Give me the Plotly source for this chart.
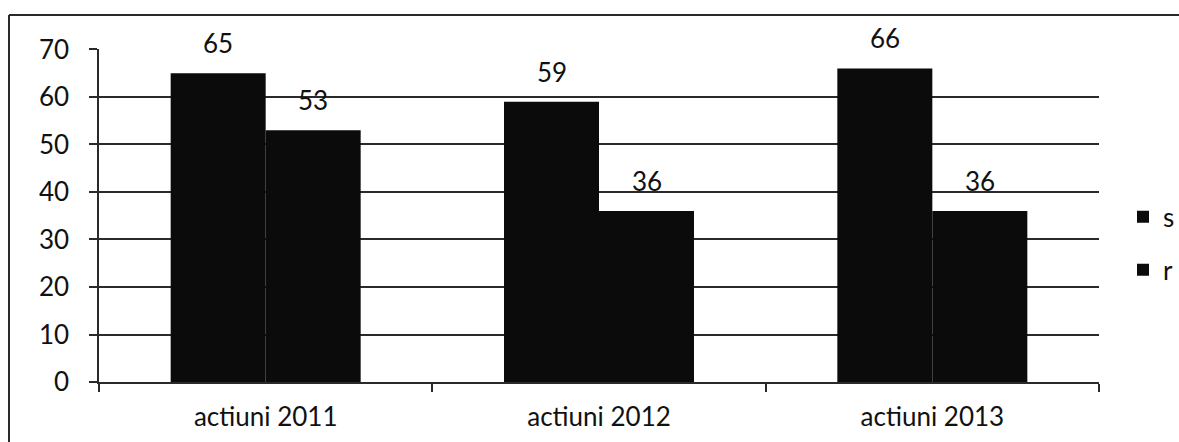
import plotly.graph_objects as go

categories = ["actiuni 2011", "actiuni 2012", "actiuni 2013"]
series_names = ["s", "r"]
s_values = [65, 59, 66]
r_values = [53, 36, 36]
y_ticks = [0, 10, 20, 30, 40, 50, 60, 70]

FONT = "Lato, Carlito, Calibri, sans-serif"
BAR_COLOR = "#0b0b0b"
LINE_COLOR = "#2a2a2a"
BARGAP = 0.43

fig = go.Figure()
for i, (name, vals) in enumerate(zip(series_names, [s_values, r_values])):
    fig.add_trace(go.Bar(
        x=categories, y=vals, name=name,
        marker=dict(color=BAR_COLOR, line=dict(width=0)),
        legendgroup=name,
    ))

# data labels above bars
bar_w = (1 - BARGAP) / 2
annotations = []
for ci in range(len(categories)):
    for si, vals in enumerate([s_values, r_values]):
        xpos = ci - bar_w / 2 + si * bar_w
        annotations.append(dict(
            x=xpos, y=vals[ci], xref="x", yref="y",
            text=str(vals[ci]), showarrow=False,
            yshift=30, font=dict(family=FONT, size=26, color="#111"),
        ))

fig.update_layout(
    width=1179, height=442,
    margin=dict(l=99, r=80, t=49, b=60, autoexpand=False),
    paper_bgcolor="white", plot_bgcolor="white",
    barmode="group", bargap=BARGAP, bargroupgap=0,
    font=dict(family=FONT, size=26, color="#111"),
    showlegend=True,
    legend=dict(
        x=1.024, xanchor="left", y=0.416, yanchor="middle",
        font=dict(family=FONT, size=26, color="#111"),
        tracegroupgap=16, traceorder="grouped",
        bgcolor="rgba(0,0,0,0)", itemwidth=30,
    ),
    annotations=annotations,
    shapes=[
        dict(type="line", xref="paper", yref="paper",
             x0=-0.09, x1=1.1, y0=1.102, y1=1.102,
             line=dict(color=LINE_COLOR, width=2)),
        dict(type="line", xref="paper", yref="paper",
             x0=-0.09, x1=-0.09, y0=-0.2, y1=1.102,
             line=dict(color=LINE_COLOR, width=2)),
    ],
)

fig.update_xaxes(
    type="category", showline=True, linecolor=LINE_COLOR, linewidth=1.5,
    ticks="outside", tickson="boundaries", ticklen=8, tickcolor=LINE_COLOR,
    tickwidth=1.5, showgrid=False, ticklabelstandoff=11,
    tickfont=dict(family=FONT, size=26, color="#111"),
)
fig.update_yaxes(
    range=[0, 70.1], tickvals=y_ticks, showline=True, linecolor=LINE_COLOR,
    linewidth=1.5, ticks="outside", ticklen=8, tickcolor=LINE_COLOR, tickwidth=1.5,
    showgrid=True, gridcolor=LINE_COLOR, gridwidth=1.5, zeroline=False,
    ticklabelstandoff=15,
    tickfont=dict(family=FONT, size=26, color="#111"),
)

fig.write_html("out.html", config={"displayModeBar": False},
               post_script="document.body.style.margin='0';")
